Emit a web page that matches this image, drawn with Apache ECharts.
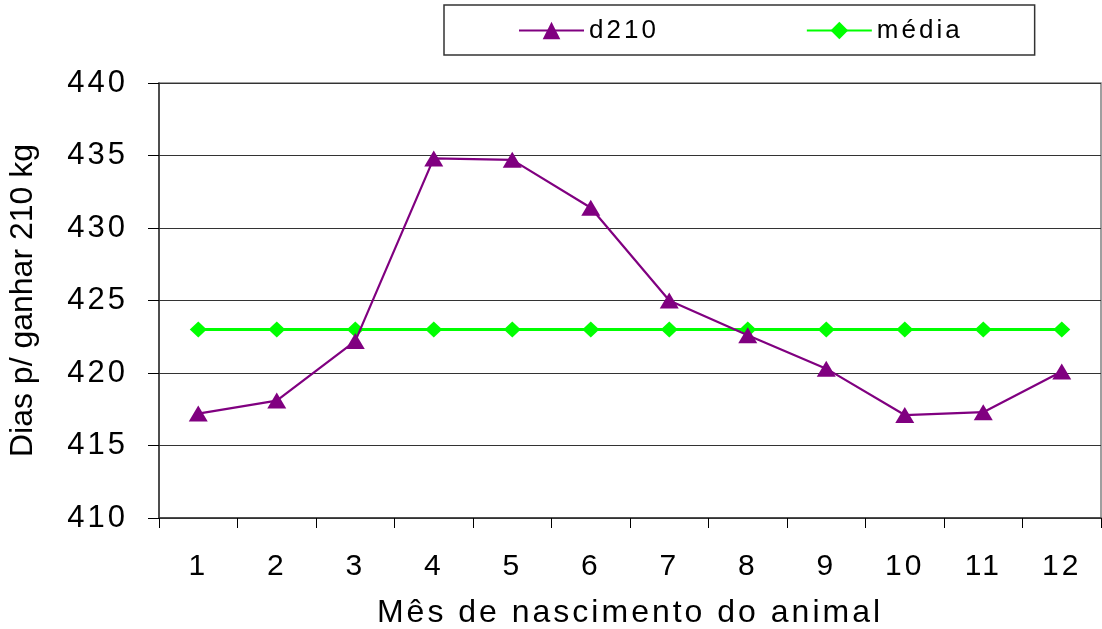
<!DOCTYPE html>
<html><head><meta charset="utf-8">
<script src="https://cdn.jsdelivr.net/npm/echarts@6/dist/echarts.min.js"></script>
<style>html,body{margin:0;padding:0;background:#fff}#c{width:1102px;height:629px}</style>
</head><body><div id="c"></div>
<script>
const months = ['1','2','3','4','5','6','7','8','9','10','11','12'];
const d210 = [417.2, 418.1, 422.2, 434.8, 434.7, 431.4, 425.0, 422.6, 420.3, 417.1, 417.3, 420.1];
const media = [423, 423, 423, 423, 423, 423, 423, 423, 423, 423, 423, 423];
const yTicks = {min: 410, max: 440, interval: 5};
const xTitle = 'Mês de nascimento do animal';
const yTitle = 'Dias p/ ganhar 210 kg';

// wide letter spacing as in the original rendering (not for the y title)
(function(){
  const P = CanvasRenderingContext2D.prototype;
  const sp = t => (t === yTitle ? '0px' : '3px');
  const f = P.fillText, m = P.measureText;
  P.fillText = function(t, x, y, w){ try{ this.letterSpacing = sp(t); }catch(e){} return w === undefined ? f.call(this, t, x, y) : f.call(this, t, x, y, w); };
  P.measureText = function(t){ try{ this.letterSpacing = sp(t); }catch(e){} return m.call(this, t); };
})();

const font = '"Liberation Sans", Arial, sans-serif';
const chart = echarts.init(document.getElementById('c'));
chart.setOption({
  animation: false,
  backgroundColor: '#fff',
  grid: {left: 159, right: 1, top: 83, bottom: 111, show: true, borderColor: '#808080', borderWidth: 1.5,
         backgroundColor: 'transparent', containLabel: false, outerBoundsMode: 'none'},
  legend: {
    left: 444, top: 5,
    padding: [11, 72, 10, 74],
    borderColor: '#333', borderWidth: 1.5,
    itemWidth: 65, itemHeight: 22, itemGap: 147,
    textStyle: {fontFamily: font, fontSize: 26, color: '#000'},
    data: ['d210', 'média']
  },
  xAxis: {
    type: 'category', data: months, boundaryGap: true,
    name: xTitle, nameLocation: 'middle', nameGap: 78,
    nameTextStyle: {fontFamily: font, fontSize: 32, color: '#000'},
    axisLine: {lineStyle: {color: '#333', width: 1.5}},
    axisTick: {show: true, length: 10, lineStyle: {color: '#000'}},
    axisLabel: {fontFamily: font, fontSize: 30, color: '#000', margin: 32}
  },
  yAxis: {
    type: 'value', min: yTicks.min, max: yTicks.max, interval: yTicks.interval,
    name: yTitle, nameLocation: 'middle', nameGap: 118, nameRotate: 90,
    nameTextStyle: {fontFamily: font, fontSize: 32, color: '#000'},
    axisLine: {show: true, lineStyle: {color: '#333', width: 1.5}},
    axisTick: {show: true, length: 11, lineStyle: {color: '#000'}},
    axisLabel: {fontFamily: font, fontSize: 31, color: '#000', margin: 31},
    splitLine: {show: true, lineStyle: {color: '#333', width: 1}}
  },
  series: [
    {name: 'd210', type: 'line', data: d210, symbol: 'triangle', symbolSize: [19,16],
     lineStyle: {color: '#800080', width: 2.2}, itemStyle: {color: '#800080'}, z: 3},
    {name: 'média', type: 'line', data: media, symbol: 'diamond', symbolSize: [17,16],
     lineStyle: {color: '#00ff00', width: 3}, itemStyle: {color: '#00ff00'}, z: 2}
  ]
});
</script></body></html>
